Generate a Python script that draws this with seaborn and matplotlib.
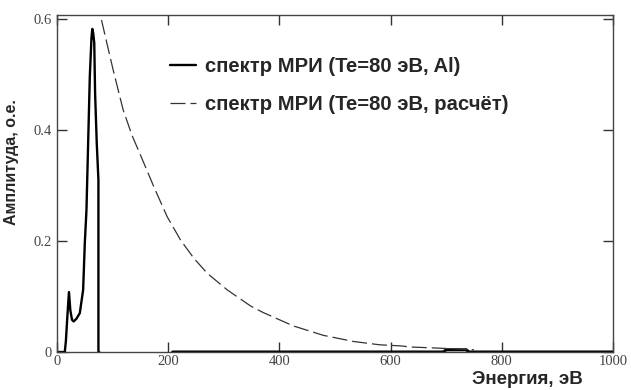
import matplotlib
matplotlib.use("Agg")
import matplotlib.pyplot as plt
import seaborn as sns
import pandas as pd

energy_al = [0, 14, 16, 19, 21.5, 24, 27, 30, 35, 41, 47, 50, 53, 56, 59, 62, 63.5, 65, 67, 68.5, 71.5, 74.5, 74.5, 76]
ampl_al = [0, 0, 0.02, 0.07, 0.108, 0.075, 0.058, 0.055, 0.06, 0.07, 0.112, 0.196, 0.256, 0.376, 0.496, 0.566, 0.582, 0.575, 0.557, 0.467, 0.376, 0.31, 0, 0]

# хвост измеренного спектра вдоль нуля
energy_al_tail = [208, 400, 695, 700, 736, 741, 1000]
ampl_al_tail = [0, 0, 0, 0.004, 0.004, 0, 0]

# Спектр МРИ, расчёт (Te=80 эВ)
energy_calc = [80, 90, 101, 119, 135, 150, 174, 198, 222, 246, 270, 306, 348, 371, 425, 479, 533, 580, 618, 636, 685, 750]
ampl_calc = [0.598, 0.555, 0.508, 0.436, 0.39, 0.355, 0.298, 0.244, 0.202, 0.169, 0.142, 0.112, 0.083, 0.071, 0.047, 0.030, 0.019, 0.013, 0.011, 0.009, 0.007, 0.004]

x_ticks = [0, 200, 400, 600, 800, 1000]
y_ticks = [0, 0.2, 0.4, 0.6]
y_tick_labels = ["0", "0.2", "0.4", "0.6"]

sns.set_style("white")
plt.rcParams["font.family"] = ["Liberation Sans", "DejaVu Sans"]

df_al = pd.DataFrame({"E": energy_al, "A": ampl_al})
df_tail = pd.DataFrame({"E": energy_al_tail, "A": ampl_al_tail})
df_calc = pd.DataFrame({"E": energy_calc, "A": ampl_calc})

fig = plt.figure(figsize=(6.31, 3.90), dpi=100)
ax = fig.add_axes([57 / 631, 1 - 352 / 390, 556 / 631, 337 / 390])

sns.lineplot(data=df_al, x="E", y="A", sort=False, estimator=None, color="black",
             linewidth=1.7, ax=ax, label="спектр МРИ (Te=80 эВ, Al)")
sns.lineplot(data=df_tail, x="E", y="A", sort=False, estimator=None, color="black",
             linewidth=2.2, ax=ax, legend=False)
sns.lineplot(data=df_calc, x="E", y="A", sort=False, estimator=None, color="#333333",
             linewidth=0.9, ax=ax, label="спектр МРИ (Te=80 эВ, расчёт)")
ax.lines[2].set_dashes((12, 4))

ax.set_xlim(0, 1000)
ax.set_ylim(0, 0.607)
ax.set_xticks(x_ticks)
ax.set_yticks(y_ticks)
ax.set_yticklabels(y_tick_labels)
for lab in ax.get_xticklabels() + ax.get_yticklabels():
    lab.set_family("Liberation Serif")
    lab.set_fontsize(10.5)
    lab.set_color("#444444")
ax.tick_params(direction="in", length=7, width=1, color="#333333",
               top=True, right=True, bottom=True, left=True)
ax.tick_params(axis="x", pad=2)
ax.tick_params(axis="y", pad=4)
for sp in ax.spines.values():
    sp.set_color("#444444")
    sp.set_linewidth(1)

ax.set_xlabel("")
ax.set_ylabel("")
fig.text(12 / 631, 1 - 162 / 390, "Амплитуда, о.е.", rotation=90, ha="center", va="center",
         fontsize=11.5, fontweight="bold")
fig.text(583 / 631, 1 - 379 / 390, "Энергия, эВ", ha="right", va="center",
         fontsize=13.5, fontweight="bold")

leg = ax.legend(loc="upper left", bbox_to_anchor=(0.203, 0.875), frameon=False,
                prop={"size": 14.6, "weight": "bold"}, handlelength=1.3, handletextpad=0.45,
                labelspacing=0.95, borderpad=0, borderaxespad=0)
leg.get_lines()[1].set_dashes((12, 4))

fig.savefig("out.png", dpi=100)
